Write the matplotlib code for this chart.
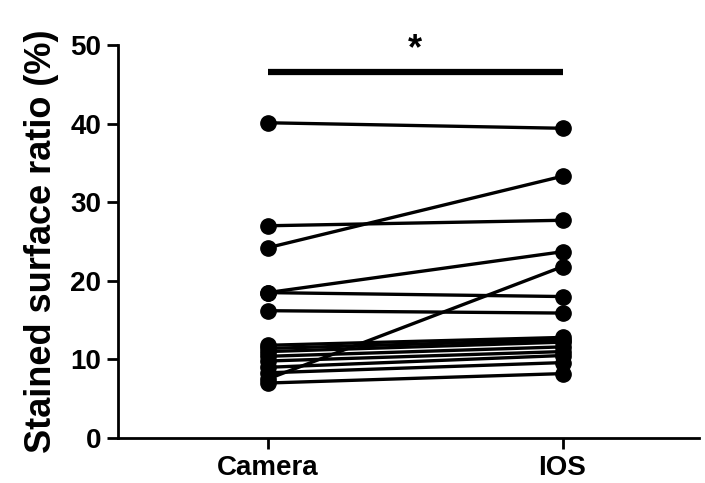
import matplotlib
matplotlib.use("Agg")
import matplotlib.pyplot as plt

groups = ["Camera", "IOS"]
camera = [40.1, 27.0, 24.2, 18.5, 18.5, 16.2, 11.8, 11.4, 11.0, 10.4, 9.8, 9.0, 8.3, 7.5, 7.0]
ios = [39.4, 27.7, 33.3, 23.7, 18.0, 15.9, 12.8, 12.5, 12.2, 11.6, 11.0, 10.5, 9.6, 21.8, 8.2]
sig_y = 46.6
yticks = [0, 10, 20, 30, 40, 50]

plt.rcParams["font.family"] = ["Liberation Sans", "DejaVu Sans"]
plt.rcParams["font.weight"] = "bold"

fig = plt.figure(figsize=(7.05, 4.83), dpi=100)
ax = fig.add_axes([0.167, 0.093, 0.825, 0.814])

xs = range(len(groups))
for c, i in zip(camera, ios):
    ax.plot(xs, [c, i], color="black", lw=2.4, marker="o", ms=11,
            solid_capstyle="round", clip_on=False)

ax.plot([0, 1], [sig_y, sig_y], color="black", lw=4.5, solid_capstyle="butt")
ax.text(0.5, sig_y + 0.6, "*", ha="center", va="bottom", fontsize=26, fontweight="bold")

ax.set_xlim(-0.508, 1.464)
ax.set_ylim(0, 50)
ax.set_xticks(list(xs))
ax.set_xticklabels(groups, fontsize=20, fontweight="bold")
ax.set_yticks(yticks)
ax.set_yticklabels([str(t) for t in yticks], fontsize=20, fontweight="bold")
ax.set_ylabel("Stained surface ratio (%)", fontsize=26, fontweight="bold", labelpad=8)

for s in ["top", "right"]:
    ax.spines[s].set_visible(False)
for s in ["left", "bottom"]:
    ax.spines[s].set_linewidth(2)
ax.tick_params(direction="out", length=8, width=2, pad=4)

fig.savefig("out.png", dpi=100)
